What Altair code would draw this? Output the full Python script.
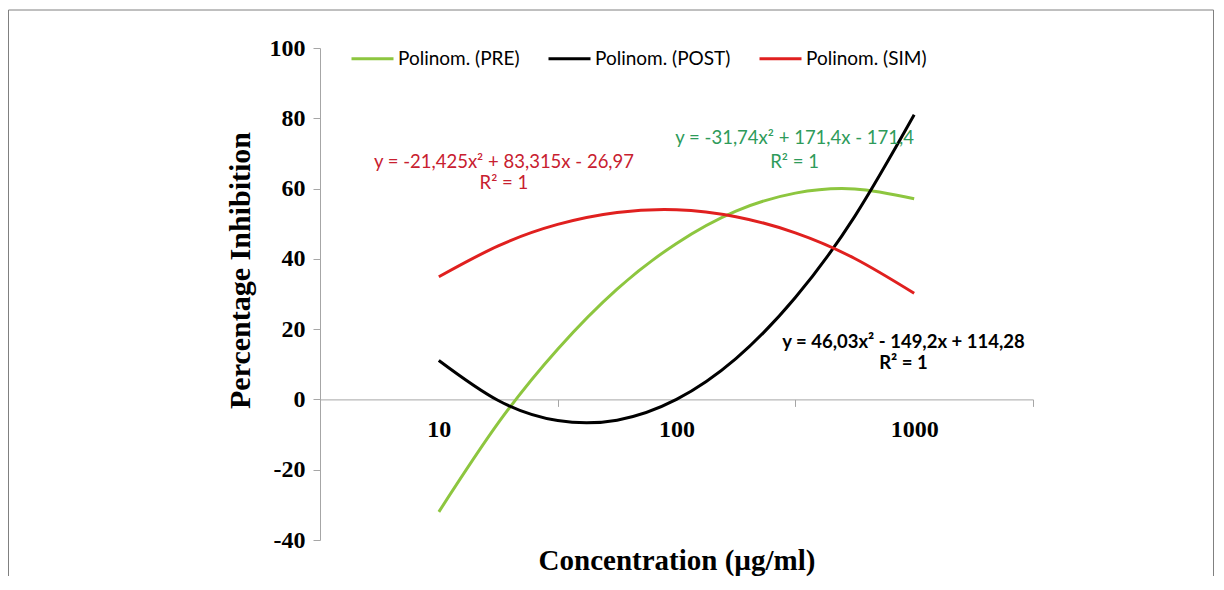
import altair as alt
import pandas as pd

# ---- data ----
x_positions = [1.0, 1.25, 1.5, 1.75, 2.0, 2.25, 2.5, 2.75, 3.0]   # category index (10, 100, 1000 at 1, 2, 3)
pre_values = [-32.0, -6.7, 14.3, 31.4, 44.4, 53.6, 58.7, 59.9, 57.1]
post_values = [11.1, -0.3, -6.0, -5.9, 0.0, 11.6, 29.0, 52.1, 81.0]
sim_values = [34.9, 43.7, 49.8, 53.2, 54.0, 52.0, 47.4, 40.1, 30.2]

series_names = ["Polinom. (PRE)", "Polinom. (POST)", "Polinom. (SIM)"]
series_colors = ["#8DC63F", "#000000", "#E0201F"]

x_tick_labels = ["10", "100", "1000"]
y_ticks = [-40, -20, 0, 20, 40, 60, 80, 100]

eq_texts = ["y = -21,425x² + 83,315x - 26,97", "R² = 1",
            "y = -31,74x² + 171,4x - 171,4", "R² = 1",
            "y = 46,03x² - 149,2x + 114,28", "R² = 1"]
eq_x = [1.274, 1.274, 2.497, 2.497, 2.955, 2.955]
eq_y = [67.5, 61.5, 74.4, 67.5, 16.3, 10.3]
eq_colors = ["#C8202F", "#C8202F", "#2E9B5A", "#2E9B5A", "#000000", "#000000"]
eq_bold = [False, False, False, False, True, True]

rows = []
for name, vals in zip(series_names, [pre_values, post_values, sim_values]):
    for xv, yv in zip(x_positions, vals):
        rows.append({"x": xv, "y": yv, "series": name})
df = pd.DataFrame(rows)

eq_df = pd.DataFrame({"text": eq_texts, "x": eq_x, "y": eq_y,
                      "color": eq_colors, "bold": eq_bold})

label_expr = " : ".join(
    f"datum.value == {i + 1} ? '{lab}'" for i, lab in enumerate(x_tick_labels)
) + " : ''"

x_scale = alt.Scale(domain=[0.5, 3.5], nice=False, zero=False)
y_scale = alt.Scale(domain=[-40, 100], nice=False)

x_axis = alt.Axis(
    values=[0.5, 1, 1.5, 2, 2.5, 3, 3.5],
    labelExpr=label_expr,
    grid=False,
    offset=-140.6,
    domainColor="#A6A6A6",
    tickColor="#A6A6A6",
    tickSize=7,
    tickOpacity={"expr": "datum.value % 1 == 0 ? 0 : 1"},
    labelFont="Liberation Serif",
    labelFontWeight="bold",
    labelFontSize=24,
    labelColor="#000000",
    labelPadding=11,
    labelFlush=False,
    title="Concentration (µg/ml)",
    titleFont="Liberation Serif",
    titleFontWeight="bold",
    titleFontSize=29,
    titleColor="#000000",
    titleY=161,
    titleBaseline="middle",
)

y_axis = alt.Axis(
    values=y_ticks,
    labelExpr="datum.value + ''",
    grid=False,
    domainColor="#A6A6A6",
    tickColor="#A6A6A6",
    tickSize=7,
    labelFont="Liberation Serif",
    labelFontWeight="bold",
    labelFontSize=24,
    labelColor="#000000",
    labelPadding=8,
    title="Percentage Inhibition",
    titleFont="Liberation Serif",
    titleFontWeight="bold",
    titleFontSize=30,
    titleColor="#000000",
    titleX=-80,
    titleY=222,
    titleBaseline="middle",
)

lines = alt.Chart(df).mark_line(strokeWidth=3, interpolate="natural").encode(
    x=alt.X("x:Q", scale=x_scale, axis=x_axis),
    y=alt.Y("y:Q", scale=y_scale, axis=y_axis),
    color=alt.Color(
        "series:N",
        scale=alt.Scale(domain=series_names, range=series_colors),
        sort=series_names,
        legend=alt.Legend(
            title=None,
            orient="none",
            legendX=30,
            legendY=-12,
            direction="horizontal",
            symbolType="stroke",
            symbolSize=1764,
            symbolStrokeWidth=3,
            labelFont="Lato",
            labelFontSize=19,
            labelColor="#000000",
            labelOffset=3,
            columnPadding=22,
            padding=0,
        ),
    ),
    detail="series:N",
)

eq_base = alt.Chart(eq_df).encode(
    x=alt.X("x:Q", scale=x_scale),
    y=alt.Y("y:Q", scale=y_scale),
    text="text:N",
    color=alt.Color("color:N", scale=None),
)
eqs_normal = eq_base.transform_filter("!datum.bold").mark_text(
    font="Lato", fontSize=18.5, align="center", baseline="middle")
eqs_bold = eq_base.transform_filter("datum.bold").mark_text(
    font="Lato", fontSize=18.5, fontWeight="bold", align="center", baseline="middle")

# decorative figure frame (top, left and right edges)
frame_src = pd.DataFrame({"k": [0]})
frame_style = dict(stroke="#808080", strokeWidth=1, clip=False)
frame_top = alt.Chart(frame_src).mark_rule(**frame_style).encode(
    x=alt.value(-311.5), x2=alt.value(893.5), y=alt.value(-38))
frame_left = alt.Chart(frame_src).mark_rule(**frame_style).encode(
    x=alt.value(-311.5), y=alt.value(-38), y2=alt.value(528))
frame_right = alt.Chart(frame_src).mark_rule(**frame_style).encode(
    x=alt.value(893.5), y=alt.value(-38), y2=alt.value(528))

chart = alt.layer(frame_top, frame_left, frame_right, lines, eqs_normal, eqs_bold).properties(
    width=713,
    height=492,
    background="white",
    autosize=alt.AutoSizeParams(type="none"),
    padding={"left": 312, "top": 40, "right": 183, "bottom": 42},
).configure_view(stroke=None)

chart.save("out.html", embed_options={"renderer": "svg", "actions": False})
